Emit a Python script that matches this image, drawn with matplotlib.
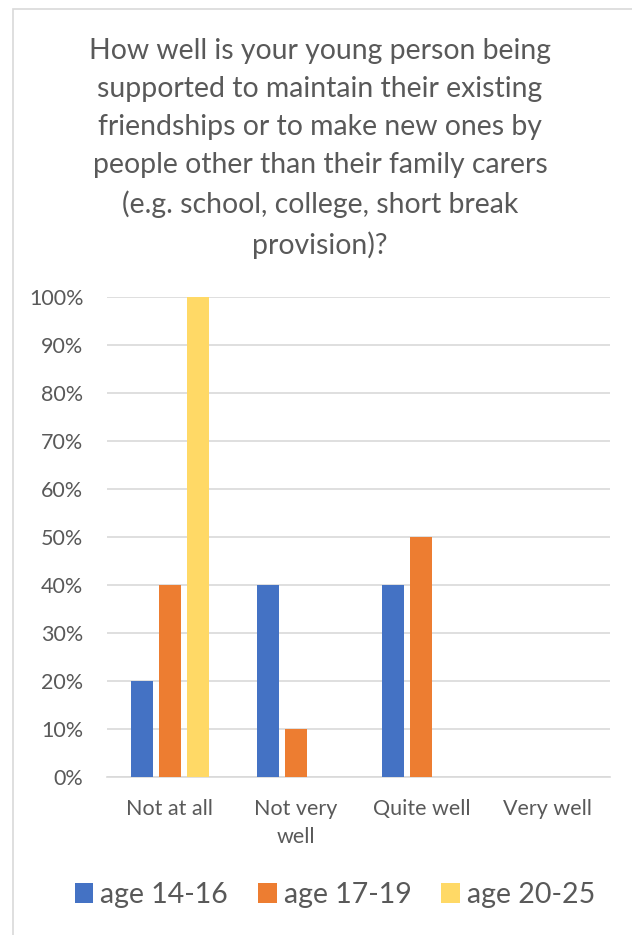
import matplotlib.pyplot as plt
import numpy as np
from matplotlib.patches import Rectangle

categories = ["Not at all", "Not very\nwell", "Quite well", "Very well"]
series_names = ["age 14-16", "age 17-19", "age 20-25"]
age_14_16 = [20, 40, 40, 0]
age_17_19 = [40, 10, 50, 0]
age_20_25 = [100, 0, 0, 0]
colors = ["#4472C4", "#ED7D31", "#FFD966"]

title = ("How well is your young person being\n"
         "supported to maintain their existing\n"
         "friendships or to make new ones by\n"
         "people other than their family carers\n"
         "(e.g. school, college, short break\n"
         "provision)?")

plt.rcParams['font.family'] = ['Lato', 'DejaVu Sans']
text_color = "#595959"

fig = plt.figure(figsize=(6.32, 9.35), dpi=100)
# chart border (cropped at right/bottom)
fig.patches.append(Rectangle((13 / 632, -0.01), 1.0, 1 - 9 / 935 + 0.01,
                             transform=fig.transFigure, fill=False,
                             edgecolor="#D9D9D9", linewidth=1.2))

ax = fig.add_axes([107 / 632, 1 - 777 / 935, 503 / 632, 480 / 935])

x = np.arange(len(categories))
width = 0.175
offsets = [-0.223, 0, 0.223]
for vals, name, c, off in zip([age_14_16, age_17_19, age_20_25], series_names, colors, offsets):
    ax.bar(x + off, vals, width, color=c, label=name, zorder=3)

ax.set_xlim(-0.5, 3.5)
ax.set_ylim(0, 100)
ax.set_yticks(range(0, 101, 10))
ax.set_yticklabels([f"{v}%" for v in range(0, 101, 10)])
ax.set_xticks(x)
ax.set_xticklabels(categories, linespacing=1.5)
ax.tick_params(axis="both", length=0, colors=text_color, labelsize=15.5)
ax.tick_params(axis="y", pad=17)
ax.tick_params(axis="x", pad=16)
ax.grid(axis="y", color="#D9D9D9", linewidth=1.2, zorder=0)
for s in ["top", "right", "left"]:
    ax.spines[s].set_visible(False)
ax.spines["bottom"].set_color("#D9D9D9")
ax.spines["bottom"].set_linewidth(1.2)

fig.text(320 / 632, 1 - 38 / 935, title, ha="center", va="top",
         fontsize=20.4, color=text_color, linespacing=1.57)

fig.legend(loc="center", bbox_to_anchor=(335 / 632, 1 - 895 / 935), ncol=3,
           frameon=False, fontsize=20.5, labelcolor=text_color,
           handlelength=0.65, handleheight=0.75, handletextpad=0.25,
           columnspacing=1.05)

fig.savefig("out.png", dpi=100)
